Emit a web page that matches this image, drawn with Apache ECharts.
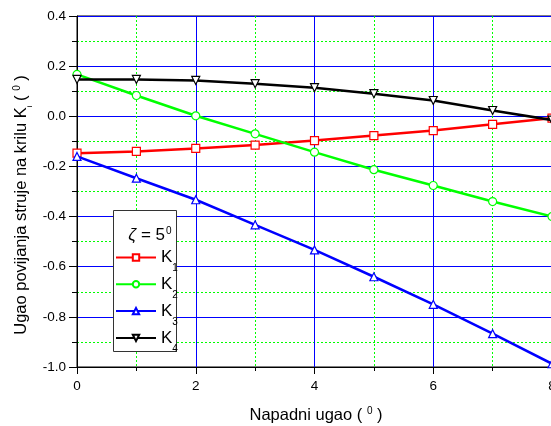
<!DOCTYPE html>
<html>
<head>
<meta charset="utf-8">
<script src="https://cdn.jsdelivr.net/npm/echarts@6/dist/echarts.min.js"></script>
<style>
  html, body { margin: 0; padding: 0; background: #fff; }
  #chart { width: 551px; height: 426px; }
</style>
</head>
<body>
<div id="chart"></div>
<script>
// attack angle (deg)
const angles = [0, 1, 2, 3, 4, 5, 6, 7, 8];
// K1..K4
const k1 = [-0.147, -0.140, -0.128, -0.115, -0.097, -0.077, -0.057, -0.032, -0.007];
const k2 = [0.167, 0.083, 0.002, -0.070, -0.143, -0.213, -0.276, -0.340, -0.400];
const k3 = [-0.160, -0.247, -0.333, -0.433, -0.533, -0.640, -0.750, -0.867, -0.987];
const k4 = [0.147, 0.147, 0.143, 0.130, 0.114, 0.090, 0.063, 0.023, -0.015];
const seriesNames = ["K1", "K2", "K3", "K4"];
const seriesColors = ["#ff0000", "#00ff00", "#0000ff", "#000000"];
const seriesSymbols = ["rect", "circle", "triangle", "path://M0,0 L10,0 L5,9 Z"];

const font = "Liberation Sans, Arial, sans-serif";
const chart = echarts.init(document.getElementById("chart"));

const makeSeries = (vals, i) => ({
  name: seriesNames[i],
  type: "line",
  data: angles.map((a, j) => [a, vals[j]]),
  symbol: seriesSymbols[i],
  symbolSize: 8,
  showAllSymbol: true,
  clip: false,
  lineStyle: { color: seriesColors[i], width: 2.5 },
  itemStyle: { color: "#fff", borderColor: seriesColors[i], borderWidth: 1.2 },
  emphasis: { disabled: true },
  z: 2 + i
});

const option = {
  animation: false,
  backgroundColor: "#fff",
  textStyle: { fontFamily: font },
  grid: {
    left: 77, top: 16, width: 475, height: 351,
    outerBoundsMode: "none",
    containLabel: false,
    show: true, borderColor: "#000", borderWidth: 1, backgroundColor: "transparent"
  },
  xAxis: {
    type: "value",
    min: 0, max: 8, interval: 2,
    axisLine: { show: true, onZero: false, lineStyle: { color: "#000", width: 1 } },
    axisTick: { show: true, inside: false, length: 7, lineStyle: { color: "#000" } },
    minorTick: { show: true, splitNumber: 2, length: 4, lineStyle: { color: "#000" } },
    axisLabel: { color: "#000", fontSize: 13.5, margin: 12, fontFamily: font },
    splitLine: { show: true, lineStyle: { color: "#0000ff", width: 1 } },
    minorSplitLine: { show: true, lineStyle: { color: "#00ff00", width: 1, type: [2, 2] } }
  },
  yAxis: {
    type: "value",
    min: -1.0, max: 0.4, interval: 0.2,
    axisLine: { show: true, onZero: false, lineStyle: { color: "#000", width: 1 } },
    axisTick: { show: true, inside: false, length: 8, lineStyle: { color: "#000" } },
    minorTick: { show: true, splitNumber: 2, length: 5, lineStyle: { color: "#000" } },
    axisLabel: {
      color: "#000", fontSize: 13.5, margin: 11, fontFamily: font,
      formatter: v => v.toFixed(1)
    },
    splitLine: { show: true, lineStyle: { color: "#0000ff", width: 1 } },
    minorSplitLine: { show: true, lineStyle: { color: "#00ff00", width: 1, type: [2, 2] } }
  },
  legend: {
    orient: "vertical",
    left: 115, top: 249,
    padding: 0,
    itemWidth: 40, itemHeight: 8, itemGap: 2.3,
    selectedMode: false,
    z: 10,
    formatter: name => "{k|K}{s|" + name.slice(1) + "}",
    textStyle: {
      color: "#000",
      rich: {
        k: { fontSize: 17, fontFamily: font, lineHeight: 20 },
        s: { fontSize: 10, fontFamily: font, verticalAlign: "bottom", lineHeight: 10, padding: [0, 0, -6, 0] }
      }
    }
  },
  graphic: [
    {
      type: "rect", z: 9,
      shape: { x: 113.5, y: 210.5, width: 63, height: 141 },
      style: { fill: "#fff", stroke: "#333", lineWidth: 1 }
    },
    {
      type: "text", z: 10,
      x: 150, y: 235,
      style: {
        text: "{z|ζ}{n| = 5}{p|0}",
        align: "center", verticalAlign: "middle",
        rich: {
          z: { fontSize: 17, fontStyle: "italic", fontFamily: font },
          n: { fontSize: 17, fontFamily: font },
          p: { fontSize: 10, fontFamily: font, verticalAlign: "top", padding: [0, 0, 8, 1] }
        }
      }
    },
    {
      type: "text",
      x: 21, y: 205,
      rotation: Math.PI / 2,
      style: {
        text: "{n|Ugao povijanja struje na krilu K}{s|i}{n| ( }{p|0}{n| )}",
        align: "center", verticalAlign: "middle",
        rich: {
          n: { fontSize: 16.5, fontFamily: font, fill: "#000" },
          s: { fontSize: 8, fontFamily: font, verticalAlign: "bottom", padding: [0, 0, -4, 0] },
          p: { fontSize: 10, fontFamily: font, verticalAlign: "top", padding: [0, 0, 8, 0] }
        }
      }
    },
    {
      type: "text",
      x: 316, y: 415,
      style: {
        text: "{n|Napadni ugao ( }{p|0}{n| )}",
        align: "center", verticalAlign: "middle",
        rich: {
          n: { fontSize: 16.5, fontFamily: font, fill: "#000" },
          p: { fontSize: 10, fontFamily: font, verticalAlign: "top", padding: [0, 0, 8, 0] }
        }
      }
    }
  ],
  series: [k1, k2, k3, k4].map(makeSeries)
};

chart.setOption(option);
</script>
</body>
</html>
